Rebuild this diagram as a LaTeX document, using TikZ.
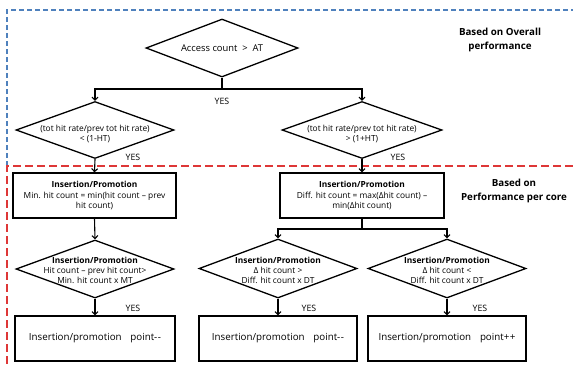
\documentclass[tikz,border=0pt]{standalone}
\usepackage{fontspec}
\setmainfont{Open Sans}
\usetikzlibrary{shapes.geometric,arrows.meta}
\definecolor{frameblue}{RGB}{79,129,189}
\definecolor{framered}{RGB}{222,55,55}
\tikzset{
 dia/.style={diamond, draw, line width=1.3bp, inner sep=0pt, minimum width=158bp, minimum height=58bp},
 boxn/.style={rectangle, draw, line width=1.3bp, inner sep=0pt, minimum width=162bp, minimum height=45bp, align=center, font=\fontsize{8.4}{10.5}\selectfont},
 bigbox/.style={boxn, font=\fontsize{9.8}{11}\selectfont},
 arr/.style={line width=1.1bp, -{Straight Barb[length=3bp,width=6bp]}},
 ln/.style={line width=1.1bp},
 yes/.style={font=\fontsize{8.8}{10}\selectfont, inner sep=0pt},
 dtext/.style={align=center, inner sep=0pt, font=\fontsize{8.4}{10}\selectfont},
 side/.style={align=center, inner sep=0pt, font=\fontsize{9.8}{14}\selectfont\bfseries},
}
\begin{document}
\begin{tikzpicture}[x=1bp,y=-1bp]
\useasboundingbox (0,0) rectangle (573,365);
% frames
\draw[frameblue, line width=1.2bp, dash pattern=on 5bp off 3bp] (7,166) -- (7,10) -- (573,10);
\draw[framered, line width=1.5bp, dash pattern=on 8bp off 4bp] (573,166) -- (7,166) -- (7,365);
% side labels
\node[side] (s1) at (500,40) {Based on Overall\\performance};
\node[side] (s2) at (514,191) {Based on\\Performance per core};
% top diamond
\node[dia, minimum width=152bp, minimum height=58bp] (d0) at (222,48) {};
\node[dtext, font=\fontsize{9.4}{10}\selectfont] (t0) at (d0) {Access count\ \ >\ \ AT};
% level 1 diamonds
\node[dia, minimum height=57bp] (d1) at (95,130) {};
\node[dtext] (t1) at (95,134) {(tot hit rate/prev\ tot hit rate)\\< (1-HT)};
\node[dia, minimum width=160bp, minimum height=57bp] (d2) at (362,130) {};
\node[dtext] (t2) at (362,134) {(tot hit rate/prev\ tot hit rate)\\> (1+HT)};
\coordinate (j0) at (222,89);
\draw[ln] (d0.south) -- (j0);
\draw[arr] (j0) -| (d1.north);
\draw[arr] (j0) -| (d2.north);
\node[yes] (y0) at (222,101) {YES};
% boxes
\node[boxn, minimum width=163bp] (b1) at (94.5,195.5) {\textbf{Insertion/Promotion}\\Min. hit count = min(hit count – prev\\hit count)};
\node[boxn, minimum width=164bp] (b2) at (362,195.5) {\textbf{Insertion/Promotion}\\Diff. hit count = max(Δhit count) –\\min(Δhit count)};
\draw[arr] (d1.south) -- (b1.north);
\draw[arr] (d2.south) -- (b2.north);
\node[yes] (y1) at (133,157) {YES};
\node[yes] (y2) at (398,157) {YES};
% level 2 diamonds
\node[dia] (d3) at (95,269) {};
\node[dtext] (t3) at (95,270) {\textbf{Insertion/Promotion}\\Hit count – prev hit count>\\Min. hit count x MT};
\node[dia, minimum height=59bp] (d4) at (278,268.5) {};
\node[dtext] (t4) at (278,270) {\textbf{Insertion/Promotion}\\Δ hit count >\\Diff. hit count x DT};
\node[dia, minimum height=59bp] (d5) at (447,268.5) {};
\node[dtext] (t5) at (447,270) {\textbf{Insertion/Promotion}\\Δ hit count <\\Diff. hit count x DT};
\draw[arr] (b1.south) -- (d3.north);
\coordinate (j1) at (362,229);
\draw[ln] (b2.south) -- (j1);
\draw[arr] (j1) -| (d4.north);
\draw[arr] (j1) -| (d5.north);
% bottom boxes
\node[bigbox, minimum width=160bp] (b3) at (95,338.5) {Insertion/promotion\hspace{0.9em}point-\kern0.5pt-};
\node[bigbox, minimum width=158bp] (b4) at (278,338.5) {Insertion/promotion\hspace{0.9em}point-\kern0.5pt-};
\node[bigbox, minimum width=158bp] (b5) at (447,338.5) {Insertion/promotion\hspace{0.9em}point+\kern0.5pt+};
\draw[arr] (d3.south) -- (b3.north);
\draw[arr] (d4.south) -- (b4.north);
\draw[arr] (d5.south) -- (b5.north);
\node[yes] (y3) at (133,308) {YES};
\node[yes] (y4) at (309,308) {YES};
\node[yes] (y5) at (480,308) {YES};
\end{tikzpicture}
\end{document}
